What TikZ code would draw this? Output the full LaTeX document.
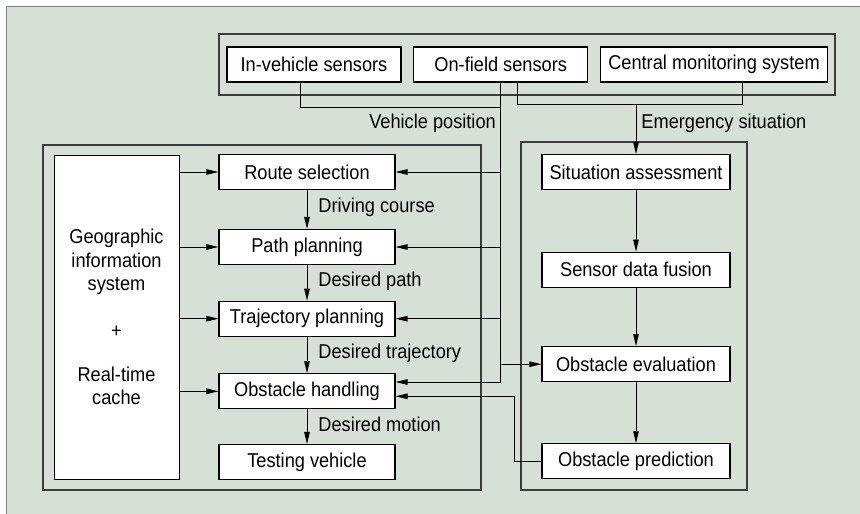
\documentclass[tikz,border=0pt]{standalone}
\usepackage{fontspec}
\setmainfont{Liberation Sans}[FakeStretch=0.91]
\usetikzlibrary{arrows.meta,calc}

\definecolor{panelgreen}{RGB}{214,224,215}
\definecolor{framegray}{RGB}{60,60,60}

\tikzset{
  blk/.style={draw=black, fill=white, line width=1.1pt, inner sep=0pt,
    minimum height=35pt, font=\fontsize{20}{23.3}\selectfont},
  grp/.style={draw=framegray, line width=1.3pt},
  lnk/.style={line width=0.9pt},
  arr/.style={lnk, -{Triangle[length=12pt,width=5.5pt]}},
  lbl/.style={font=\fontsize{20}{22}\selectfont, inner sep=0pt},
}

\begin{document}
\begin{tikzpicture}[x=1pt,y=-1pt]
\useasboundingbox (0,0) rectangle (860,514);
\fill[panelgreen] (6,6) rectangle (860,514);
\draw[gray, line width=1pt] (860,6) -- (6,6) -- (6,514);

% group frames
\draw[grp] (219,34) rectangle (835,95);
\draw[grp] (43,145) rectangle (481,490);
\draw[grp] (521,142) rectangle (747,490);

% sensors
\node[blk, minimum width=174pt] (invs) at (314,64.5) {In-vehicle sensors};
\node[blk, minimum width=174pt] (onfs) at (500.7,64.5) {On-field sensors};
\node[blk, minimum width=227pt] (cms)  at (714,64.5) {Central monitoring system};

% planning chain
\node[blk, line width=0.8pt, minimum width=125pt, minimum height=324pt, align=center]
  (gis) at (116.5,317)
  {Geographic\\information\\system\\[24pt]+\\[20pt]Real-time\\cache};
\node[blk, minimum width=176pt] (route) at (307,172)   {Route selection};
\node[blk, minimum width=176pt] (path)  at (307,247)   {Path planning};
\node[blk, minimum width=176pt] (traj)  at (307,318.7) {Trajectory planning};
\node[blk, minimum width=176pt] (obsh)  at (307,391.3) {Obstacle handling};
\node[blk, minimum width=176pt] (test)  at (307,462)   {Testing vehicle};

% situation chain
\node[blk, minimum width=188pt] (sa)   at (636,172.2) {Situation assessment};
\node[blk, minimum width=188pt] (sdf)  at (636,269.7) {Sensor data fusion};
\node[blk, minimum width=188pt] (obse) at (636,364.2) {Obstacle evaluation};
\node[blk, minimum width=188pt] (obsp) at (636,461.3) {Obstacle prediction};

% sensor links
\coordinate (vpj) at (500.7,107);
\coordinate (trk) at (500.7,382);
\coordinate (emj) at (636,104.3);
\draw[lnk] ([xshift=-14pt]invs.south) |- (vpj);
\draw[lnk] (onfs.south) -- (trk);
\draw[lnk] ([xshift=17pt]onfs.south) |- ($(cms.south)+(28,22)$) -- ([xshift=28pt]cms.south);
\node[lbl, anchor=east] (vplbl) at (496,123) {Vehicle position};
\draw[arr] (emj) -- (sa.north)
  node[lbl, pos=0.38, anchor=west, xshift=5pt] {Emergency situation};

\draw[arr] (trk |- route.east) -- (route.east);
\draw[arr] (trk |- path.east) -- (path.east);
\draw[arr] (trk |- traj.east) -- (traj.east);
\draw[arr] (trk) -- (trk -| obsh.east);
\draw[arr] (trk |- obse.west) -- (obse.west);

% GIS feeds
\foreach \n in {route,path,traj,obsh}
  \draw[arr] (gis.east |- \n) -- (\n.west);

% downward chain
\draw[arr] (route) -- (path)
  node[lbl, midway, anchor=west, xshift=11pt, yshift=2pt] {Driving course};
\draw[arr] (path) -- (traj)
  node[lbl, midway, anchor=west, xshift=11pt, yshift=2pt] {Desired path};
\draw[arr] (traj) -- (obsh)
  node[lbl, midway, anchor=west, xshift=11pt, yshift=2pt] {Desired trajectory};
\draw[arr] (obsh) -- (test)
  node[lbl, midway, anchor=west, xshift=11pt, yshift=2pt] {Desired motion};

\draw[arr] (sa) -- (sdf);
\draw[arr] (sdf) -- (obse);
\draw[arr] (obse) -- (obsp);

% prediction feedback
\draw[arr] (obsp.west) -| ($(obsh.east)+(119,5)$) -- ($(obsh.east)+(0,5)$);
\end{tikzpicture}
\end{document}
